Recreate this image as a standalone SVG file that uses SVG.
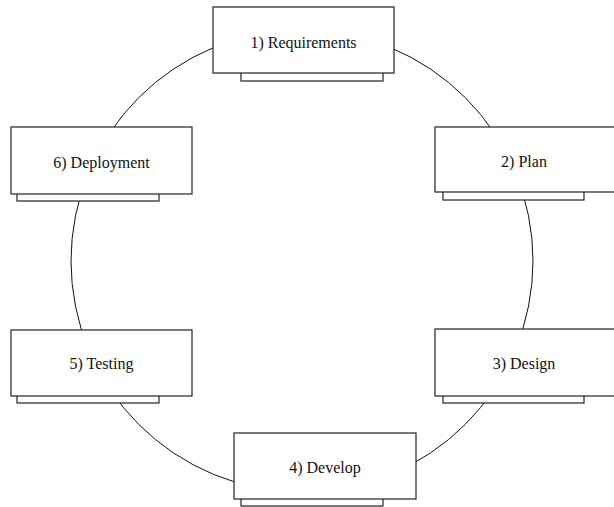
<svg xmlns="http://www.w3.org/2000/svg" width="614" height="507" viewBox="0 0 614 507">
<style>
.box{fill:#fff;stroke:#222;stroke-width:1.2}
.bar{fill:#fff;stroke:#222;stroke-width:1.2}
.lbl{font-family:"Liberation Serif","Times New Roman",serif;font-size:16px;fill:#111;text-anchor:middle;dominant-baseline:central}
.ring{fill:none;stroke:#111;stroke-width:1}
</style>
<rect width="614" height="507" fill="#fff"/>
<g id="connectors">
<circle class="ring" cx="302" cy="261" r="231"/>
</g>
<g id="n1">
<rect class="bar" x="241" y="66" width="142" height="15"/>
<rect class="box" x="213" y="7" width="181" height="66"/>
<text class="lbl" x="303.5" y="42.5">1) Requirements</text>
</g>
<g id="n2">
<rect class="bar" x="443" y="185" width="141" height="15"/>
<rect class="box" x="435" y="127" width="181" height="65"/>
<text class="lbl" x="524" y="161.5">2) Plan</text>
</g>
<g id="n3">
<rect class="bar" x="443" y="388" width="141" height="15"/>
<rect class="box" x="435" y="329" width="181" height="67"/>
<text class="lbl" x="524" y="363.5">3) Design</text>
</g>
<g id="n4">
<rect class="bar" x="241" y="491" width="142" height="15"/>
<rect class="box" x="234" y="433" width="182" height="66"/>
<text class="lbl" x="325" y="467.5">4) Develop</text>
</g>
<g id="n5">
<rect class="bar" x="17" y="388" width="142" height="15"/>
<rect class="box" x="11" y="330" width="181" height="66"/>
<text class="lbl" x="101.5" y="363.5">5) Testing</text>
</g>
<g id="n6">
<rect class="bar" x="17" y="186" width="142" height="15"/>
<rect class="box" x="11" y="127" width="181" height="67"/>
<text class="lbl" x="101.5" y="162.5">6) Deployment</text>
</g>
</svg>
